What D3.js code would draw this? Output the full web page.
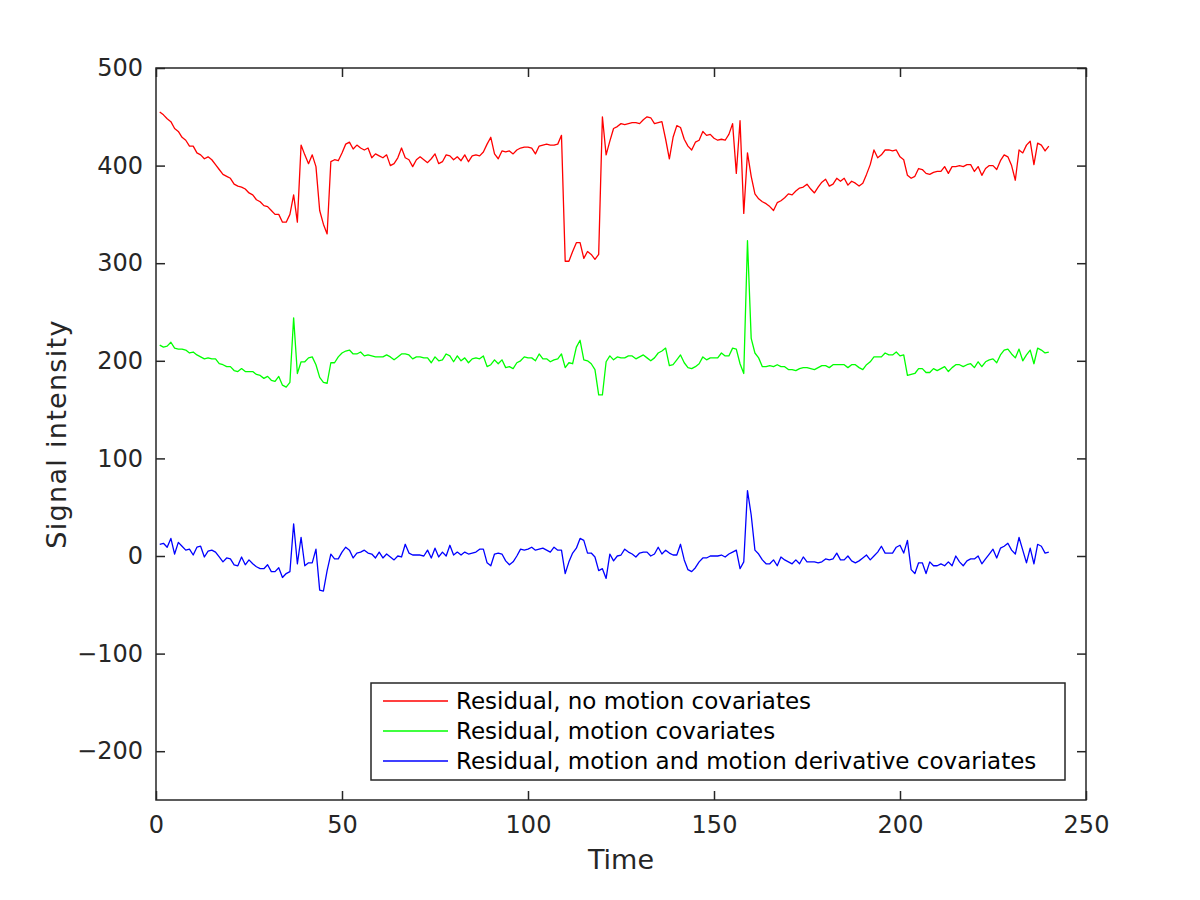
<!DOCTYPE html>
<html>
<head>
<meta charset="utf-8">
<script src="https://cdn.jsdelivr.net/npm/d3@7"></script>
<style>
  body { margin: 0; background: #fff; }
  text { font-family: "DejaVu Sans", sans-serif; fill: #262626; }
</style>
</head>
<body>
<script>
// residual signal, one value per time point (t = 1..240)
var noMotion = [
  455,452,448,445,438,435,429,426,420,420,
  413,411,407,409,406,401,396,391,389,387,
  381,379,378,376,372,370,365,363,359,358,
  354,350,350,342,342,350,370,342,421,411,
  402,411,399,354,340,330,404,406,405,413,
  422,424,417,421,418,416,418,408,412,410,
  408,411,400,402,408,418,408,406,399,406,
  409,406,403,407,412,402,404,411,410,406,
  409,405,411,404,410,411,410,414,422,429,
  412,407,415,414,415,412,416,418,419,419,
  418,412,420,421,422,421,421,422,431,302,
  302,312,321,321,305,312,309,304,309,450,
  411,425,438,440,443,442,443,444,444,443,
  447,450,449,443,444,445,427,407,429,441,
  439,427,420,416,424,426,435,431,432,428,
  426,427,426,432,443,392,446,351,413,389,
  371,366,363,361,358,354,362,364,367,371,
  370,374,377,378,381,376,372,378,383,386,
  379,381,387,384,387,380,384,382,379,382,
  391,401,416,408,411,416,416,415,416,409,
  406,390,387,389,397,396,392,391,393,394,
  394,399,392,399,399,400,399,401,401,394,
  399,390,397,400,400,396,405,411,409,400,
  385,416,413,421,425,401,423,421,415,420
];

var withMotion = [
  216,214,215,219,213,212,212,211,208,209,
  206,204,202,203,202,202,197,196,194,194,
  190,189,192,189,189,189,186,185,182,184,
  180,179,184,175,173,178,244,187,199,199,
  203,204,196,183,178,177,198,198,204,208,
  210,211,207,207,209,205,206,205,204,204,
  204,206,204,201,204,207,207,206,202,204,
  204,203,203,198,204,200,201,207,205,199,
  205,200,203,198,202,203,202,205,194,196,
  201,197,201,193,194,192,198,200,204,203,
  203,200,207,202,202,199,201,202,207,193,
  198,197,214,221,201,200,197,191,165,165,
  199,205,201,204,203,203,205,205,202,204,
  206,203,200,203,208,210,213,195,196,201,
  206,198,193,192,194,197,204,201,203,203,
  203,208,205,205,213,212,197,187,323,223,
  208,203,194,194,195,194,196,194,194,191,
  191,190,192,193,193,192,191,193,195,195,
  193,196,196,196,196,193,196,196,193,191,
  196,199,204,204,204,208,206,206,209,205,
  206,185,186,187,192,192,188,188,192,190,
  192,194,189,193,196,196,194,196,197,193,
  199,194,199,201,202,198,206,211,212,207,
  203,212,200,206,211,197,213,211,208,209
];

var withDerivative = [
  12,13,9,18,2,14,10,6,7,1,
  9,10,-1,5,6,4,-1,-6,-2,-3,
  -9,-10,-1,-9,-4,-8,-11,-13,-13,-9,
  -16,-16,-12,-22,-18,-16,33,-8,19,-10,
  -7,-7,7,-35,-36,-15,2,-3,-3,4,
  9,6,-2,3,4,6,3,2,-2,4,
  -2,2,-1,-4,0,-1,12,3,1,1,
  1,0,6,-2,8,-1,4,0,11,1,
  4,1,4,2,3,4,7,7,-7,-10,
  2,3,2,-5,-9,-6,0,7,6,7,
  9,6,7,8,6,4,9,6,6,-18,
  -6,3,8,18,16,3,3,-1,-15,-13,
  -23,2,-5,0,1,7,4,2,-1,3,
  4,4,0,2,9,2,6,3,1,1,
  12,-4,-14,-16,-12,-6,-2,-2,0,0,
  0,1,-1,2,4,6,-13,-6,67,42,
  6,2,-4,-8,-8,-4,-10,-1,-4,-6,
  -8,-4,-8,-1,-6,-6,-6,-7,-6,-3,
  -4,-3,3,-4,-4,0,-5,-7,-5,-2,
  1,-4,0,4,10,3,3,3,9,11,
  3,16,-14,-18,-7,-7,-18,-6,-10,-10,
  -8,-10,-6,-10,0,-6,-10,-5,-3,-3,
  0,-8,-3,2,7,-2,8,10,13,6,
  2,19,6,-7,8,-8,12,10,3,4
];

var seriesNames = [
  "Residual, no motion covariates",
  "Residual, motion covariates",
  "Residual, motion and motion derivative covariates"
];
var seriesColors = [ "#ff0000", "#00ff00", "#0000ff" ];
var xTicks = [0, 50, 100, 150, 200, 250];
var yTicks = [-200, -100, 0, 100, 200, 300, 400, 500];

var W = 1200, H = 900;
var LEFT = 156, RIGHT = 1086, TOP = 68, BOTTOM = 800;
var TICK = 9;
var AXIS_COLOR = "#262626";

var x = d3.scaleLinear().domain([0, 250]).range([LEFT, RIGHT]);
var y = d3.scaleLinear().domain([-250, 500]).range([BOTTOM, TOP]);

var svg = d3.select("body")
    .append("svg")
    .attr("width", W)
    .attr("height", H);

// the three residual lines
var line = d3.line()
    .x(function(d, i) { return x(i + 1); })
    .y(function(d) { return y(d); });

var allSeries = [noMotion, withMotion, withDerivative];

svg.append("g").selectAll("path")
    .data(allSeries)
    .enter().append("path")
    .attr("d", line)
    .attr("fill", "none")
    .attr("stroke", function(d, i) { return seriesColors[i]; })
    .attr("stroke-width", 1.3)
    .attr("stroke-linejoin", "round");

// axes: ticks point inward, mirrored on the opposite side (matlab box)
function styleAxis(g) {
    g.select(".domain").remove();
    g.selectAll(".tick line").attr("stroke", AXIS_COLOR).attr("stroke-width", 1.5);
    g.selectAll(".tick text")
        .style("font-size", "24px")
        .attr("fill", AXIS_COLOR);
}

svg.append("g")
    .attr("transform", "translate(0," + BOTTOM + ")")
    .call(d3.axisBottom(x).tickValues(xTicks).tickSize(-TICK).tickPadding(16))
    .call(styleAxis);

svg.append("g")
    .attr("transform", "translate(0," + TOP + ")")
    .call(d3.axisTop(x).tickValues(xTicks).tickSize(-TICK).tickFormat(""))
    .call(styleAxis);

svg.append("g")
    .attr("transform", "translate(" + LEFT + ",0)")
    .call(d3.axisLeft(y).tickValues(yTicks).tickSize(-TICK).tickPadding(13)
        .tickFormat(function(d) { return d < 0 ? "\u2212" + Math.abs(d) : d; }))
    .call(styleAxis);

svg.append("g")
    .attr("transform", "translate(" + RIGHT + ",0)")
    .call(d3.axisRight(y).tickValues(yTicks).tickSize(-TICK).tickFormat(""))
    .call(styleAxis);

svg.append("rect")
    .attr("x", LEFT)
    .attr("y", TOP)
    .attr("width", RIGHT - LEFT)
    .attr("height", BOTTOM - TOP)
    .attr("fill", "none")
    .attr("stroke", AXIS_COLOR)
    .attr("stroke-width", 1.5);

// axis titles
svg.append("text")
    .attr("x", (LEFT + RIGHT) / 2)
    .attr("y", 869)
    .attr("text-anchor", "middle")
    .style("font-size", "27px")
    .text("Time");

svg.append("text")
    .attr("transform", "translate(66," + ((TOP + BOTTOM) / 2) + ") rotate(-90)")
    .attr("text-anchor", "middle")
    .style("font-size", "27px")
    .style("letter-spacing", "1.3px")
    .text("Signal intensity");

// legend
var legend = svg.append("g");

legend.append("rect")
    .attr("x", 371)
    .attr("y", 683)
    .attr("width", 694)
    .attr("height", 97)
    .attr("fill", "#fff")
    .attr("stroke", AXIS_COLOR)
    .attr("stroke-width", 1.5);

var rows = legend.selectAll(".entry")
    .data(seriesNames)
    .enter().append("g")
    .attr("class", "entry")
    .attr("transform", function(d, i) { return "translate(0," + (701 + i * 30) + ")"; });

rows.append("line")
    .attr("x1", 383)
    .attr("x2", 448)
    .attr("stroke", function(d, i) { return seriesColors[i]; })
    .attr("stroke-width", 1.3);

rows.append("text")
    .attr("x", 456)
    .attr("dy", "0.35em")
    .style("font-size", "23px")
    .style("fill", "#000")
    .text(function(d) { return d; });
</script>
</body>
</html>
